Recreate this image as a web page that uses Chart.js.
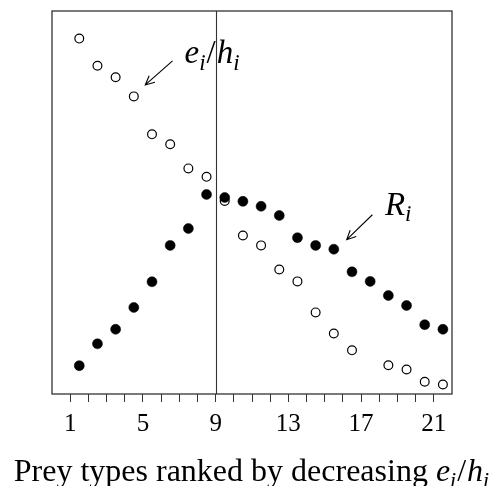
<!DOCTYPE html>
<html>
<head>
<meta charset="utf-8">
<script src="https://cdn.jsdelivr.net/npm/chart.js@4/dist/chart.umd.min.js"></script>
<style>
  html, body { margin: 0; padding: 0; background: #fff; }
  #wrap { width: 495px; height: 486px; position: relative; }
</style>
</head>
<body>
<div id="wrap"><canvas id="chart"></canvas></div>
<script>
// --- DATA ---
// prey positions along the ranked axis (points sit between the integer ticks)
const preyX = [1.5, 2.5, 3.5, 4.5, 5.5, 6.5, 7.5, 8.5, 9.5, 10.5, 11.5,
               12.5, 13.5, 14.5, 15.5, 16.5, 17.5, 18.5, 19.5, 20.5, 21.5];
// profitability e_i/h_i (open circles), type 17 has no point
const profitability = [92.8, 85.7, 82.7, 77.7, 67.8, 65.2, 58.9, 56.7, 50.4, 41.4, 38.8,
                       32.5, 29.4, 21.3, 15.8, 11.4, null, 7.5, 6.4, 3.2, 2.5];
// intake rate R_i (filled circles)
const intakeRate = [7.4, 13.1, 16.9, 22.6, 29.3, 38.8, 43.2, 52.1, 51.3, 50.3, 49.0,
                    46.6, 40.8, 38.8, 37.8, 31.9, 29.4, 25.7, 23.1, 18.1, 16.9];
const labelledTicks = [1, 5, 9, 13, 17, 21];
const optimalCutoff = 9;

// annotation anchors in data units
const notes = [
  { parts: [['e', 'i'], ['/', null], ['h', 'i']], x: 7.29, y: 86.4, from: [6.63, 87.0], to: [5.13, 80.7] },
  { parts: [['R', 'i']], x: 18.31, y: 46.8, from: [17.62, 46.8], to: [16.21, 40.3] }
];

const SERIF = '"Liberation Serif", "DejaVu Serif", serif';

// draws a math-ish string: italic letters with italic subscripts
function drawMath(ctx, parts, x, baseline, size, measureOnly) {
  let cx = x;
  parts.forEach(([main, sub]) => {
    ctx.font = (main === '/' ? '' : 'italic ') + size + 'px ' + SERIF;
    if (!measureOnly) ctx.fillText(main, cx, baseline);
    cx += ctx.measureText(main).width + (main === '/' ? 1 : 0);
    if (sub) {
      ctx.font = 'italic ' + Math.round(size * 0.7) + 'px ' + SERIF;
      if (!measureOnly) ctx.fillText(sub, cx, baseline + size * 0.2);
      cx += ctx.measureText(sub).width + 1;
    }
  });
  return cx - x;
}

function drawArrow(ctx, x1, y1, x2, y2) {
  const ang = Math.atan2(y2 - y1, x2 - x1);
  const head = 10;
  ctx.beginPath();
  ctx.moveTo(x1, y1);
  ctx.lineTo(x2, y2);
  ctx.moveTo(x2 - head * Math.cos(ang - 0.45), y2 - head * Math.sin(ang - 0.45));
  ctx.lineTo(x2, y2);
  ctx.lineTo(x2 - head * Math.cos(ang + 0.45), y2 - head * Math.sin(ang + 0.45));
  ctx.stroke();
}

const framePlugin = {
  id: 'frame',
  beforeDatasetsDraw(chart) {
    const { ctx, chartArea: a, scales } = chart;
    const xc = scales.x.getPixelForValue(optimalCutoff);
    ctx.save();
    ctx.strokeStyle = '#333';
    ctx.lineWidth = 1.1;
    ctx.beginPath();
    ctx.moveTo(Math.round(xc) + 0.5, a.top);
    ctx.lineTo(Math.round(xc) + 0.5, a.bottom);
    ctx.stroke();
    ctx.restore();
  },
  afterDraw(chart) {
    const { ctx, chartArea: a, scales } = chart;
    ctx.save();
    ctx.strokeStyle = '#333';
    ctx.lineWidth = 1.3;
    ctx.strokeRect(a.left, a.top, a.right - a.left, a.bottom - a.top);

    ctx.fillStyle = '#000';
    ctx.strokeStyle = '#000';
    ctx.lineWidth = 1.1;
    ctx.textBaseline = 'alphabetic';
    notes.forEach(n => {
      drawMath(ctx, n.parts, scales.x.getPixelForValue(n.x), scales.y.getPixelForValue(n.y), 33);
      drawArrow(ctx,
        scales.x.getPixelForValue(n.from[0]), scales.y.getPixelForValue(n.from[1]),
        scales.x.getPixelForValue(n.to[0]), scales.y.getPixelForValue(n.to[1]));
    });

    // x axis title with math subscripts
    const plain = 'Prey types ranked by decreasing ';
    const titleSize = 32;
    const mathParts = [['e', 'i'], ['/', null], ['h', 'i']];
    ctx.font = titleSize + 'px ' + SERIF;
    const w1 = ctx.measureText(plain).width;
    const wMath = drawMath(ctx, mathParts, 0, 0, titleSize, true);
    const startX = (a.left + a.right) / 2 - (w1 + wMath) / 2;
    const baseline = 481;
    ctx.font = titleSize + 'px ' + SERIF;
    ctx.fillText(plain, startX, baseline);
    drawMath(ctx, mathParts, startX + w1, baseline, titleSize);
    ctx.restore();
  }
};

const ctx = document.getElementById('chart').getContext('2d');
new Chart(ctx, {
  type: 'scatter',
  data: {
    datasets: [
      {
        label: 'R_i',
        data: preyX.map((x, i) => ({ x, y: intakeRate[i] })),
        pointStyle: 'circle',
        pointRadius: 5,
        pointBackgroundColor: '#000',
        pointBorderColor: '#000',
        pointBorderWidth: 0.5,
        order: 0
      },
      {
        label: 'e_i/h_i',
        data: preyX.map((x, i) => ({ x, y: profitability[i] })),
        pointStyle: 'circle',
        pointRadius: 4.4,
        pointBackgroundColor: '#fff',
        pointBorderColor: '#000',
        pointBorderWidth: 1.2,
        order: 1
      }
    ]
  },
  options: {
    responsive: true,
    maintainAspectRatio: false,
    animation: false,
    layout: { padding: { left: 52, right: 43, top: 11, bottom: 0 } },
    plugins: { legend: { display: false }, tooltip: { enabled: false } },
    scales: {
      x: {
        type: 'linear',
        min: 0,
        max: 22,
        afterFit: s => { s.height = 92; },
        afterBuildTicks: s => {
          s.ticks = [];
          for (let v = 1; v <= 21; v++) s.ticks.push({ value: v });
        },
        border: { display: false },
        grid: {
          drawOnChartArea: false,
          drawTicks: true,
          tickLength: 8,
          color: '#333',
          lineWidth: 1
        },
        ticks: {
          padding: 7,
          color: '#000',
          maxRotation: 0,
          autoSkip: false,
          font: { family: SERIF, size: 25 },
          callback: v => labelledTicks.includes(v) ? String(v) : ''
        }
      },
      y: {
        display: false,
        min: 0,
        max: 100
      }
    }
  },
  plugins: [framePlugin]
});
</script>
</body>
</html>
